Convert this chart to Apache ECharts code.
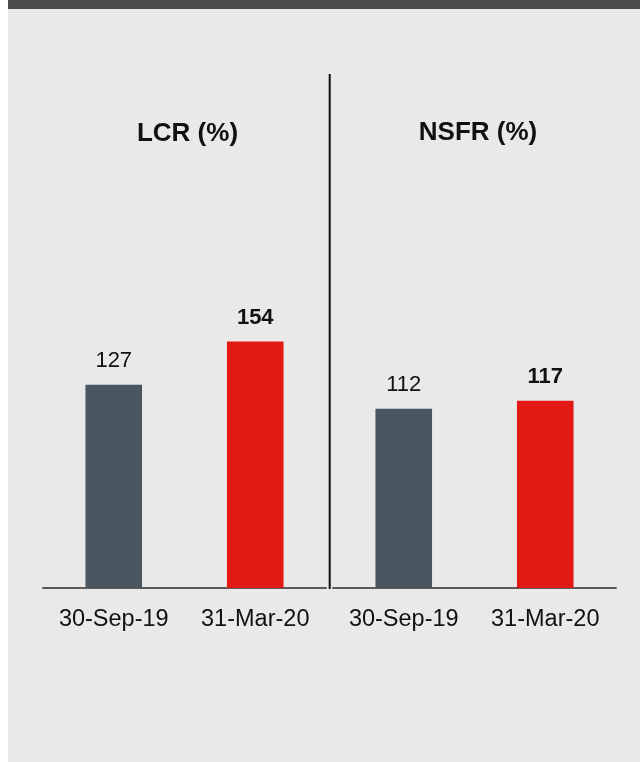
<!DOCTYPE html>
<html>
<head>
<meta charset="utf-8">
<script src="https://cdn.jsdelivr.net/npm/echarts@6/dist/echarts.min.js"></script>
<style>
html,body{margin:0;padding:0;background:#e9e9e9;}
#c{width:640px;height:762px;}
</style>
</head>
<body>
<div id="c"></div>
<script>
var categories = ['30-Sep-19', '31-Mar-20'];
var lcrValues = [127, 154];
var nsfrValues = [112, 117];
var panelTitles = ['LCR (%)', 'NSFR (%)'];
var barColors = ['#4a5660', '#e31a13'];

var FONT = '"Liberation Sans", Arial, sans-serif';

function buildData(vals) {
  return vals.map(function (v, i) {
    return {
      value: v,
      itemStyle: { color: barColors[i] },
      label: { fontWeight: i === 1 ? 'bold' : 'normal' }
    };
  });
}

var grids = [
  { left: 43, width: 283, top: 268, height: 320 },
  { left: 333, width: 283, top: 268, height: 320 }
];

var chart = echarts.init(document.getElementById('c'), null, { renderer: 'canvas' });

var xAxes = grids.map(function (g, i) {
  return {
    type: 'category',
    gridIndex: i,
    data: categories,
    axisLine: { show: true, lineStyle: { color: '#5a5a5a', width: 2 } },
    axisTick: { show: false },
    axisLabel: { interval: 0, hideOverlap: false, margin: 20, fontSize: 23.5, color: '#111', fontFamily: FONT }
  };
});
var yAxes = grids.map(function (g, i) {
  return {
    type: 'value',
    gridIndex: i,
    min: 0,
    max: 200,
    show: false,
    splitLine: { show: false }
  };
});

var seriesVals = [lcrValues, nsfrValues];
var series = seriesVals.map(function (vals, i) {
  return {
    type: 'bar',
    xAxisIndex: i,
    yAxisIndex: i,
    barWidth: '40%',
    data: buildData(vals),
    label: {
      show: true,
      position: 'top',
      distance: 13,
      fontSize: 22,
      color: '#111',
      fontFamily: FONT
    }
  };
});

var titleX = [187.5, 478];

chart.setOption({
  backgroundColor: '#e9e9e9',
  animation: false,
  grid: grids,
  xAxis: xAxes,
  yAxis: yAxes,
  series: series,
  graphic: [
    { type: 'rect', shape: { x: 0, y: 0, width: 8, height: 762 }, style: { fill: '#ffffff' }, silent: true },
    { type: 'rect', shape: { x: 8, y: 0, width: 632, height: 9 }, style: { fill: '#4b4b4d' }, silent: true },
    { type: 'line', shape: { x1: 329.7, y1: 74, x2: 329.7, y2: 589 }, style: { stroke: '#111', lineWidth: 2 }, silent: true },
    { type: 'text', x: titleX[0], y: 134, style: { text: panelTitles[0], font: 'bold 26px ' + FONT, fill: '#111', textAlign: 'center', textVerticalAlign: 'middle' } },
    { type: 'text', x: titleX[1], y: 133, style: { text: panelTitles[1], font: 'bold 26px ' + FONT, fill: '#111', textAlign: 'center', textVerticalAlign: 'middle' } }
  ]
});
</script>
</body>
</html>
